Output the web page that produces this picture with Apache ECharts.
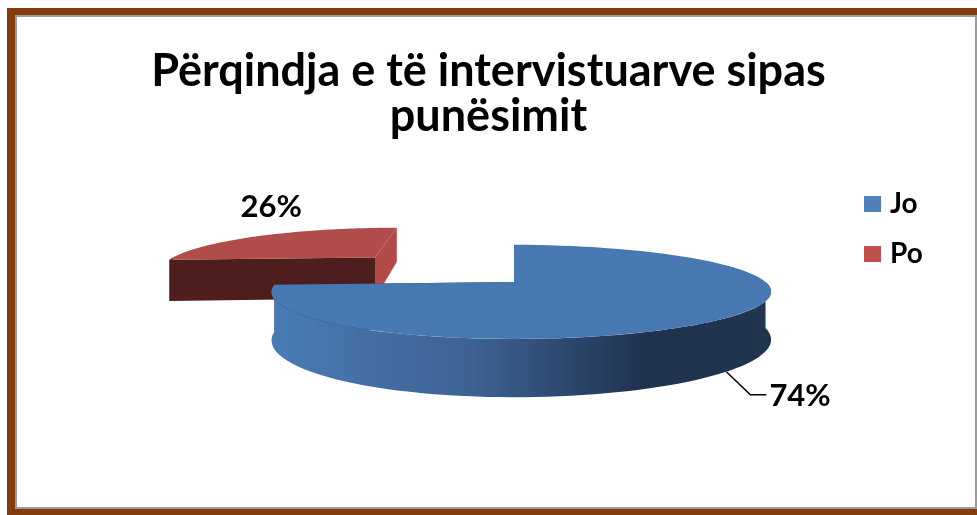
<!DOCTYPE html>
<html>
<head>
<meta charset="utf-8">
<script src="https://cdn.jsdelivr.net/npm/echarts@6/dist/echarts.min.js"></script>
<style>
  html, body { margin: 0; padding: 0; background: #fff; }
  #chart { width: 977px; height: 515px; }
</style>
</head>
<body>
<div id="chart"></div>
<script>
var chart = echarts.init(document.getElementById('chart'));

// data
const categories = ['Jo', 'Po'];
const values = [74, 26];
const titleText = 'Përqindja e të intervistuarve sipas\npunësimit';

// look of the 3d pie
const sliceColors = ['#4878b2', '#b04c49'];
const legendColors = ['#4f81bd', '#c0504d'];
const explode = [0, 0.9];
const CX = 514, CY = 282, RX = 244, RY = 45, H = 46, K = 0.21, KX = -0.03;

const total = values.reduce(function (a, b) { return a + b; }, 0);

// simple perspective: far side (Z > 0) shrinks, right side slightly larger
function proj(X, Z, Y) {
  var p = 1 / (1 + K * Z);
  var px = 1 / (1 + KX * X);
  return [CX + RX * X * p * px, CY - RY * Z * p + H * Y * p];
}

function makeRenderer(idx) {
  return function (params, api) {
    var v = api.value(0);
    var before = 0;
    for (var i = 0; i < idx; i++) before += values[i];
    var a0 = before / total * Math.PI * 2;
    var a1 = a0 + v / total * Math.PI * 2;
    var mid = (a0 + a1) / 2;
    var ox = explode[idx] * Math.sin(mid), oz = explode[idx] * Math.cos(mid);
    function pt(t, r, Y) {
      return proj(ox + r * Math.sin(t), oz + r * Math.cos(t), Y);
    }
    function arc(t0, t1, Y) {
      var out = [], n = 80;
      for (var j = 0; j <= n; j++) out.push(pt(t0 + (t1 - t0) * j / n, 1, Y));
      return out;
    }
    var children = [];
    var dark = idx === 0 ? '#24395a' : '#4e1e1e';
    var side = idx === 0 ? '#243a5c' : '#b24a47';
    // cut faces
    children.push({
      type: 'polygon',
      shape: { points: [pt(0, 0, 0), pt(a1, 1, 0), pt(a1, 1, 1), pt(0, 0, 1)] },
      style: { fill: side }
    });
    children.push({
      type: 'polygon',
      shape: { points: [pt(0, 0, 0), pt(a0, 1, 0), pt(a0, 1, 1), pt(0, 0, 1)] },
      style: { fill: dark }
    });
    // outer wall (front part only)
    var w0 = Math.max(a0, Math.PI / 2), w1 = Math.min(a1, Math.PI * 1.5);
    if (w1 > w0) {
      var top = arc(w0, w1, 0), bot = arc(w0, w1, 1).reverse();
      children.push({
        type: 'polygon',
        shape: { points: top.concat(bot) },
        style: {
          fill: idx === 0
            ? new echarts.graphic.LinearGradient(1, 0, 0, 0, [
                { offset: 0, color: '#22354f' },
                { offset: 0.25, color: '#1f324e' },
                { offset: 0.6, color: '#3d6293' },
                { offset: 1, color: '#4a7bb6' }
              ])
            : dark
        }
      });
    }
    // top surface
    children.push({
      type: 'polygon',
      shape: { points: [pt(0, 0, 0)].concat(arc(a0, a1, 0)) },
      style: { fill: sliceColors[idx] }
    });
    // label
    var label = v + '%';
    if (idx === 0) {
      var s = pt(mid, 1, 1);
      var e1 = [s[0] + 24, s[1] + 23];
      var e2 = [e1[0] + 16, e1[1]];
      children.push({
        type: 'polyline',
        shape: { points: [s, e1, e2] },
        style: { stroke: '#000', lineWidth: 1.5, fill: null }
      });
      children.push({
        type: 'text',
        style: {
          text: label, x: e2[0] + 3, y: e2[1] + 1,
          align: 'left', verticalAlign: 'middle',
          font: 'bold 31px Lato', fill: '#000'
        }
      });
    } else {
      var s2 = pt(mid, 1, 0);
      children.push({
        type: 'text',
        style: {
          text: label, x: s2[0] + 12, y: s2[1] - 14,
          align: 'center', verticalAlign: 'bottom',
          font: 'bold 31px Lato', fill: '#000'
        }
      });
    }
    return { type: 'group', children: children };
  };
}

var option = {
  backgroundColor: '#fff',
  animation: false,
  graphic: [
    { type: 'rect', z: -10, shape: { x: 7, y: 8, width: 980, height: 520 }, style: { fill: '#843c0c' } },
    { type: 'rect', z: -9, shape: { x: 16, y: 16, width: 960, height: 492 }, style: { fill: '#fff', stroke: '#9c9c9c', lineWidth: 2 } }
  ],
  title: {
    text: titleText,
    left: 'center',
    top: 44,
    textStyle: { fontFamily: 'Lato', fontWeight: 'bold', fontSize: 45, lineHeight: 45, color: '#000' }
  },
  legend: {
    data: categories,
    orient: 'vertical',
    left: 859,
    top: 183,
    icon: 'rect',
    itemWidth: 17,
    itemHeight: 16,
    itemGap: 18,
    textStyle: { fontFamily: 'Lato', fontWeight: 'bold', fontSize: 28, lineHeight: 32, color: '#000', padding: [0, 0, 0, 4] }
  },
  series: categories.map(function (name, i) {
    return {
      type: 'custom',
      name: name,
      coordinateSystem: 'none',
      z: i === 0 ? 3 : 2,
      itemStyle: { color: legendColors[i] },
      data: [[values[i]]],
      renderItem: makeRenderer(i)
    };
  })
};

chart.setOption(option);
</script>
</body>
</html>
